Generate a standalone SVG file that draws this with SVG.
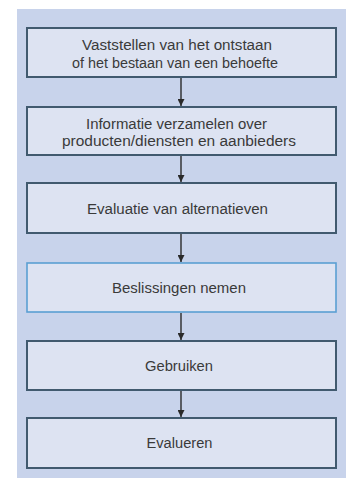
<svg xmlns="http://www.w3.org/2000/svg" width="346" height="479" viewBox="0 0 346 479">
<defs>
<style>
.box{fill:#dde3f2;stroke:#415a6f;stroke-width:2}
.box.hl{stroke:#5b9fd3;stroke-width:1.6}
.lbl{font-family:"Liberation Sans",Arial,sans-serif;font-size:15.5px;fill:#3a3a3a;text-anchor:middle}
.con{stroke:#2a2a2a;stroke-width:1.4;fill:none}
</style>
<marker id="ah" viewBox="0 0 10 10" refX="10" refY="5" markerWidth="7" markerHeight="7" markerUnits="userSpaceOnUse" orient="auto">
<path d="M0,0 L10,5 L0,10 Z" fill="#2a2a2a"/>
</marker>
</defs>
<rect x="17" y="9" width="329" height="469" fill="#c8d3eb"/>
<g id="connectors">
<line class="con" x1="181" y1="78" x2="181" y2="106" marker-end="url(#ah)"/>
<line class="con" x1="181" y1="156" x2="181" y2="182" marker-end="url(#ah)"/>
<line class="con" x1="181" y1="234" x2="181" y2="262" marker-end="url(#ah)"/>
<line class="con" x1="181" y1="313" x2="181" y2="340" marker-end="url(#ah)"/>
<line class="con" x1="181" y1="391" x2="181" y2="417" marker-end="url(#ah)"/>
</g>
<g id="n1">
<rect class="box" x="27" y="28" width="309" height="49"/>
<text class="lbl" x="177" y="50" textLength="190" lengthAdjust="spacingAndGlyphs">Vaststellen van het ontstaan</text>
<text class="lbl" x="175" y="68" textLength="206" lengthAdjust="spacingAndGlyphs">of het bestaan van een behoefte</text>
</g>
<g id="n2">
<rect class="box" x="27" y="107" width="309" height="48"/>
<text class="lbl" x="176.5" y="128.5" textLength="181" lengthAdjust="spacingAndGlyphs">Informatie verzamelen over</text>
<text class="lbl" x="179" y="146" textLength="234" lengthAdjust="spacingAndGlyphs">producten/diensten en aanbieders</text>
</g>
<g id="n3">
<rect class="box" x="27" y="183" width="309" height="50"/>
<text class="lbl" x="177.5" y="213.5" textLength="181" lengthAdjust="spacingAndGlyphs">Evaluatie van alternatieven</text>
</g>
<g id="n4">
<rect class="box hl" x="27" y="263" width="309" height="49"/>
<text class="lbl" x="179" y="292.5" textLength="134" lengthAdjust="spacingAndGlyphs">Beslissingen nemen</text>
</g>
<g id="n5">
<rect class="box" x="27" y="341" width="309" height="49"/>
<text class="lbl" x="179" y="370.5" textLength="68" lengthAdjust="spacingAndGlyphs">Gebruiken</text>
</g>
<g id="n6">
<rect class="box" x="27" y="418" width="309" height="50"/>
<text class="lbl" x="179.5" y="448" textLength="66" lengthAdjust="spacingAndGlyphs">Evalueren</text>
</g>
</svg>
